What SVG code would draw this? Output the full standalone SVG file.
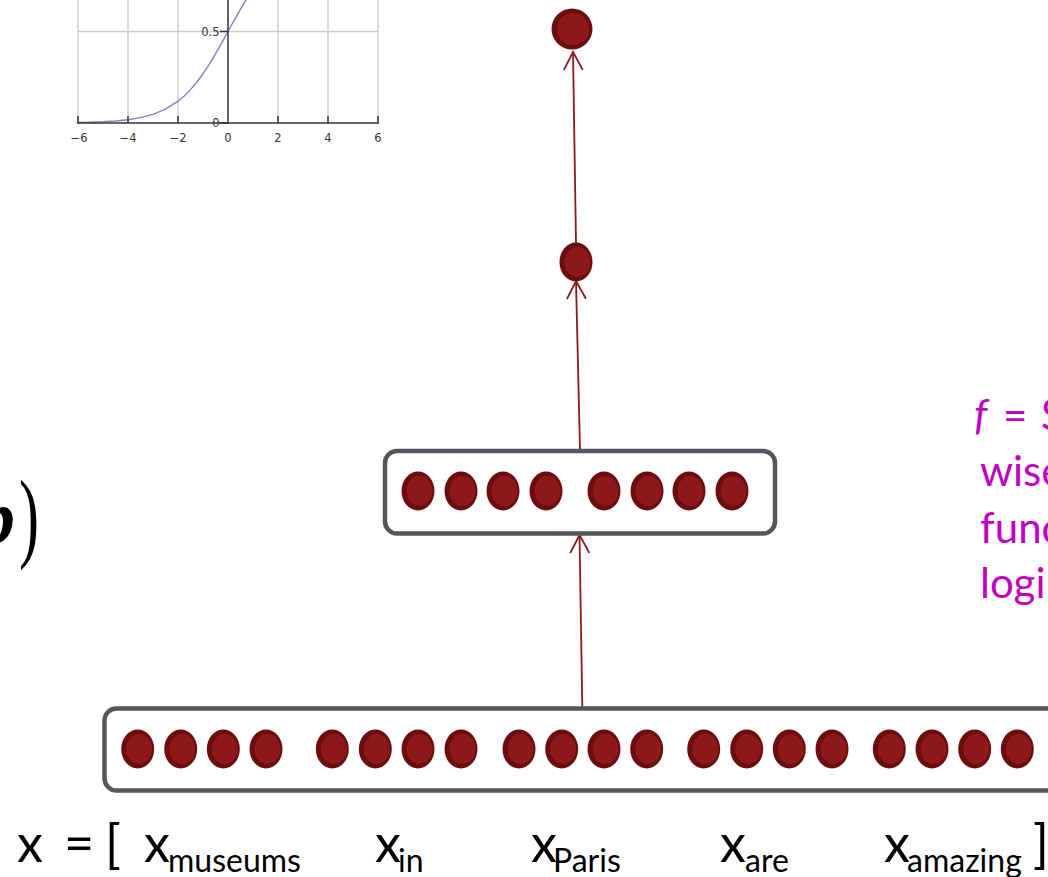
<svg xmlns="http://www.w3.org/2000/svg" xmlns:xlink="http://www.w3.org/1999/xlink" width="1048" height="877" viewBox="0 0 1048 877">
<style>
.grid{stroke:#cccccc;stroke-width:1.4;fill:none}
.axis{stroke:#333333;stroke-width:1.5;fill:none}
.tick{font-family:"DejaVu Sans",sans-serif;font-size:11.5px;fill:#333333}
.curve{stroke:#7f82c4;stroke-width:1.4;fill:none}
.box{fill:#ffffff;stroke:#55565b;stroke-width:4.5}
.conn{stroke:#8b1a1a;stroke-width:1.8;fill:none}
.lab{font-family:Lato,"Open Sans",sans-serif;fill:#000000}
.main{font-size:52px}
.sub{font-size:32px}
.mag{font-family:Lato,"Open Sans",sans-serif;font-size:42px;fill:#c000c0}
</style>
<defs>
<marker id="arr" viewBox="-20 -12 24 24" refX="0" refY="0" markerWidth="24" markerHeight="24" markerUnits="userSpaceOnUse" orient="auto">
<path d="M-18,-9.5 L0,0 L-18,9.5" stroke="#8b1a1a" stroke-width="1.8" fill="none"/>
</marker>
<g id="dot">
<ellipse cx="0" cy="0" rx="16.5" ry="19.5" fill="#6b0d0f"/>
<ellipse cx="1.5" cy="0" rx="13" ry="15" fill="#8d191b"/>
</g>
</defs>
<rect width="1048" height="877" fill="#ffffff"/>

<g id="chart">
<g class="grid">
<line x1="78" y1="0" x2="78" y2="123"/>
<line x1="128" y1="0" x2="128" y2="123"/>
<line x1="178" y1="0" x2="178" y2="123"/>
<line x1="278" y1="0" x2="278" y2="123"/>
<line x1="328" y1="0" x2="328" y2="123"/>
<line x1="378" y1="0" x2="378" y2="123"/>
<line x1="78" y1="31.5" x2="378" y2="31.5"/>
</g>
<path class="curve" d="M78,122.55 L90.5,122.26 L103,121.78 L115.5,120.99 L128,119.71 L140.5,117.64 L153,114.32 L165.5,109.12 L178,101.19 L184.25,95.92 L190.5,89.62 L196.75,82.25 L203,73.79 L209.25,64.29 L215.5,53.92 L221.75,42.88 L228,31.5 L234.25,20.12 L240.5,9.08 L246.75,-1.29 L253,-10.79"/>
<g class="axis">
<line x1="77" y1="123" x2="379" y2="123"/>
<line x1="228" y1="0" x2="228" y2="123"/>
<line x1="220" y1="31.5" x2="228" y2="31.5"/>
<line x1="220" y1="123" x2="228" y2="123"/>
<line x1="78" y1="116" x2="78" y2="123"/>
<line x1="128" y1="116" x2="128" y2="123"/>
<line x1="178" y1="116" x2="178" y2="123"/>
<line x1="278" y1="116" x2="278" y2="123"/>
<line x1="328" y1="116" x2="328" y2="123"/>
<line x1="378" y1="116" x2="378" y2="123"/>
</g>
<text class="tick" x="219.5" y="35.5" text-anchor="end">0.5</text>
<text class="tick" x="219.5" y="127" text-anchor="end">0</text>
<text class="tick" x="79" y="141.5" text-anchor="middle">−6</text>
<text class="tick" x="128" y="141.5" text-anchor="middle">−4</text>
<text class="tick" x="178" y="141.5" text-anchor="middle">−2</text>
<text class="tick" x="228" y="141.5" text-anchor="middle">0</text>
<text class="tick" x="278" y="141.5" text-anchor="middle">2</text>
<text class="tick" x="328" y="141.5" text-anchor="middle">4</text>
<text class="tick" x="378" y="141.5" text-anchor="middle">6</text>
</g>

<g id="formula">
<text x="-23" y="543" font-family="'Liberation Serif',serif" font-size="76" font-weight="bold" font-style="italic" fill="#000">b</text>
<text transform="translate(19,549) scale(0.6,1)" x="0" y="0" font-family="'Liberation Serif',serif" font-size="100" fill="#000">)</text>
</g>

<g id="connectors">
<line class="conn" x1="576" y1="243" x2="573" y2="52" marker-end="url(#arr)"/>
<line class="conn" x1="580" y1="450" x2="576" y2="281" marker-end="url(#arr)"/>
<line class="conn" x1="582.3" y1="707" x2="579.5" y2="535" marker-end="url(#arr)"/>
</g>

<g id="output-node">
<circle cx="572" cy="29" r="20.5" fill="#6b0d0f"/>
<circle cx="573" cy="29" r="16" fill="#8d191b"/>
</g>

<g id="score-node">
<use xlink:href="#dot" x="576" y="262"/>
</g>

<g id="hidden-layer">
<rect class="box" x="385" y="451" width="390" height="82.5" rx="12"/>
<use xlink:href="#dot" x="418" y="491"/>
<use xlink:href="#dot" x="461" y="491"/>
<use xlink:href="#dot" x="503" y="491"/>
<use xlink:href="#dot" x="546" y="491"/>
<use xlink:href="#dot" x="604" y="491"/>
<use xlink:href="#dot" x="647" y="491"/>
<use xlink:href="#dot" x="689" y="491"/>
<use xlink:href="#dot" x="732" y="491"/>
</g>

<g id="input-layer">
<rect class="box" x="104.5" y="708.5" width="970" height="82" rx="12"/>
<use xlink:href="#dot" x="137.7" y="749"/>
<use xlink:href="#dot" x="180.7" y="749"/>
<use xlink:href="#dot" x="223.3" y="749"/>
<use xlink:href="#dot" x="266" y="749"/>
<use xlink:href="#dot" x="332.3" y="749"/>
<use xlink:href="#dot" x="375.3" y="749"/>
<use xlink:href="#dot" x="418" y="749"/>
<use xlink:href="#dot" x="461" y="749"/>
<use xlink:href="#dot" x="519" y="749"/>
<use xlink:href="#dot" x="561.7" y="749"/>
<use xlink:href="#dot" x="604" y="749"/>
<use xlink:href="#dot" x="646.7" y="749"/>
<use xlink:href="#dot" x="703.7" y="749"/>
<use xlink:href="#dot" x="746.7" y="749"/>
<use xlink:href="#dot" x="789.3" y="749"/>
<use xlink:href="#dot" x="832" y="749"/>
<use xlink:href="#dot" x="889.3" y="749"/>
<use xlink:href="#dot" x="932" y="749"/>
<use xlink:href="#dot" x="974.7" y="749"/>
<use xlink:href="#dot" x="1017.3" y="749"/>
</g>

<g id="input-label">
<text class="lab main" x="17" y="862">x</text>
<text class="lab main" x="64" y="862">=</text>
<text class="lab main" x="105" y="862">[</text>
<text class="lab main" x="144" y="862">x</text>
<text class="lab sub" x="168" y="872">museums</text>
<text class="lab main" x="375" y="862">x</text>
<text class="lab sub" x="398" y="872">in</text>
<text class="lab main" x="531" y="862">x</text>
<text class="lab sub" x="553" y="872">Paris</text>
<text class="lab main" x="720" y="862">x</text>
<text class="lab sub" x="745" y="872">are</text>
<text class="lab main" x="884" y="862">x</text>
<text class="lab sub" x="907" y="872">amazing</text>
<text class="lab main" x="1033" y="862">]</text>
</g>

<g id="note">
<text class="mag" y="430"><tspan x="974" font-style="italic">f</tspan><tspan x="1003">=</tspan><tspan x="1041">S</tspan></text>
<text class="mag" x="980" y="486">wise</text>
<text class="mag" x="980" y="543">func</text>
<text class="mag" x="980" y="598">logi</text>
</g>
</svg>
